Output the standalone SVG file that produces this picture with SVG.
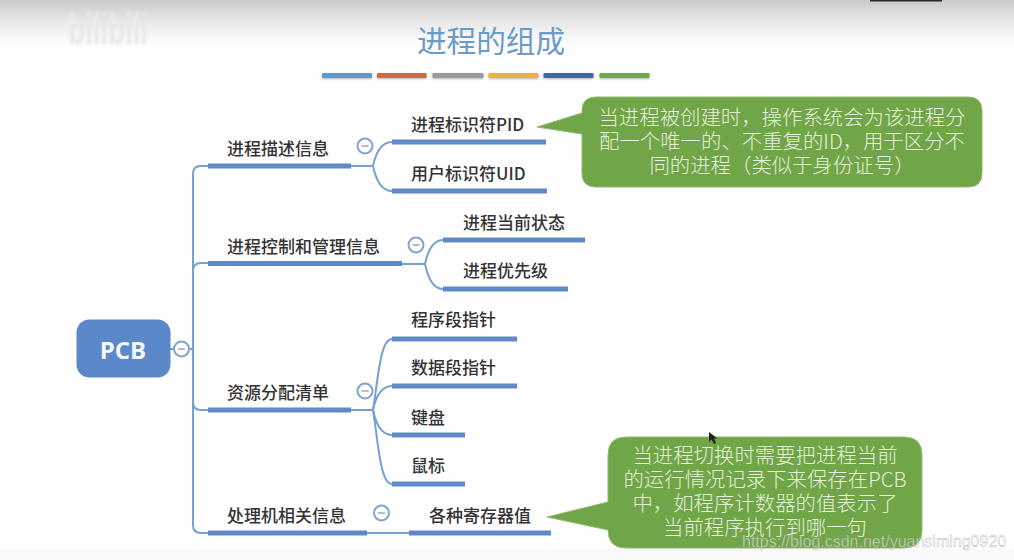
<svg xmlns="http://www.w3.org/2000/svg" width="1014" height="560" viewBox="0 0 1014 560">
  <style>
    .cjk { font-family: "Noto Sans CJK SC", "Liberation Sans", sans-serif; }
    .label { font-size: 17px; fill: #333; font-weight: 500; }
    .bar { fill: none; stroke: #5f8ac6; stroke-width: 5; }
    .thin { fill: none; stroke: #76a0d2; stroke-width: 2; }
    .toggle circle { fill: #fff; stroke: #7fa3d2; stroke-width: 2; }
    .toggle line { stroke: #a9a9b8; stroke-width: 1.6; }
    .note path { fill: #70a548; stroke: #8fb873; stroke-width: 1; }
    .note text { font-size: 20.4px; fill: #e6efdc; text-anchor: middle; font-weight: 300; }
    .swatch { filter: url(#swatchShadow); }
  </style>
  <defs>
    <linearGradient id="topShade" x1="0" y1="0" x2="0" y2="1">
      <stop offset="0" stop-color="#c9c9c9"/>
      <stop offset="0.35" stop-color="#e4e4e4"/>
      <stop offset="0.7" stop-color="#f7f7f7"/>
      <stop offset="1" stop-color="#ffffff"/>
    </linearGradient>
    <filter id="swatchShadow" x="-10%" y="-50%" width="120%" height="220%">
      <feDropShadow dx="0" dy="1" stdDeviation="1" flood-color="#555" flood-opacity="0.45"/>
    </filter>
    <filter id="faint" x="-10%" y="-30%" width="120%" height="160%">
      <feGaussianBlur stdDeviation="1.1"/>
    </filter>
  </defs>

  <rect width="1014" height="560" fill="#ffffff"/>
  <rect width="1014" height="52" fill="url(#topShade)"/>
  <rect x="870" y="0" width="72" height="1.500" fill="#2a2a2a"/>
  <rect y="549" width="1014" height="11" fill="#f9f9f9"/>

  <!-- channel mark, top left -->
  <text x="68" y="44" font-family="Liberation Sans, sans-serif" font-size="44" font-weight="700" fill="#e9e9e9" textLength="80" lengthAdjust="spacingAndGlyphs" filter="url(#faint)">bilibili</text>

  <!-- heading -->
  <g id="title">
    <text class="cjk" x="491" y="52" font-size="29.6" fill="#6a9bc9" text-anchor="middle">进程的组成</text>
    <rect class="swatch" x="322" y="73" width="50" height="5" rx="1" fill="#5f97cf"/>
    <rect class="swatch" x="377" y="73" width="49.500" height="5" rx="1" fill="#cc6a43"/>
    <rect class="swatch" x="432.500" y="73" width="51" height="5" rx="1" fill="#9b9b9b"/>
    <rect class="swatch" x="488.500" y="73" width="50" height="5" rx="1" fill="#ecb143"/>
    <rect class="swatch" x="543.500" y="73" width="50" height="5" rx="1" fill="#3f66b2"/>
    <rect class="swatch" x="599.500" y="73" width="50" height="5" rx="1" fill="#70a84c"/>
  </g>

  <g id="connectors">
    <!-- trunk from the root to the four branches -->
    <path class="thin" d="M208 166H201Q193 166 193 174V525Q193 533 201 533H208"/>
    <path class="thin" d="M193 271Q193 263 201 263H208"/>
    <path class="thin" d="M193 402Q193 410 201 410H208"/>
    <path class="thin" d="M170 349H193"/>
    <!-- branch underlines -->
    <path class="bar" d="M208 166H351"/>
    <path class="bar" d="M208 263.500H402"/>
    <path class="bar" d="M208 410H351"/>
    <path class="bar" d="M208 533H367"/>
    <!-- process description children -->
    <path class="thin" d="M351 166H373C376 152 382 142 392 142"/>
    <path class="thin" d="M373 166C376 180 382 191 392 191"/>
    <path class="bar" d="M392 142H546"/>
    <path class="bar" d="M392 191H547"/>
    <!-- process control children -->
    <path class="thin" d="M402 264H425C428 250 433 240 443 240"/>
    <path class="thin" d="M425 264C428 278 433 289 443 289"/>
    <path class="bar" d="M443 240H585"/>
    <path class="bar" d="M443 289H568"/>
    <!-- resource list children -->
    <path class="thin" d="M351 410H373C378 380 380 339 392 339"/>
    <path class="thin" d="M373 410C376 396 382 386 392 386"/>
    <path class="thin" d="M373 410C376 424 382 435 392 435"/>
    <path class="thin" d="M373 410C378 440 380 484 392 484"/>
    <path class="bar" d="M392 339H517"/>
    <path class="bar" d="M392 386H517"/>
    <path class="bar" d="M392 435H465"/>
    <path class="bar" d="M392 484H465"/>
    <!-- processor child -->
    <path class="thin" d="M367 533H409"/>
    <path class="bar" d="M409 533H551"/>
  </g>

  <g id="node-pcb">
    <rect x="76.500" y="319.500" width="94" height="58" rx="13" fill="#5a88c8"/>
    <text x="123" y="359" font-family="Open Sans, Liberation Sans, sans-serif" font-size="24" font-weight="700" fill="#f4f7fb" text-anchor="middle">PCB</text>
  </g>
  <g id="toggle-pcb" class="toggle"><circle cx="181.500" cy="349" r="7.500"/><line x1="178" y1="349" x2="185" y2="349"/></g>

  <g id="node-desc"><text class="cjk label" x="227" y="155">进程描述信息</text></g>
  <g id="toggle-desc" class="toggle"><circle cx="365" cy="146" r="7.500"/><line x1="361.500" y1="146" x2="368.500" y2="146"/></g>
  <g id="node-control"><text class="cjk label" x="227" y="253">进程控制和管理信息</text></g>
  <g id="toggle-control" class="toggle"><circle cx="416" cy="245" r="7.500"/><line x1="412.500" y1="245" x2="419.500" y2="245"/></g>
  <g id="node-resource"><text class="cjk label" x="227" y="399">资源分配清单</text></g>
  <g id="toggle-resource" class="toggle"><circle cx="365" cy="391" r="7.500"/><line x1="361.500" y1="391" x2="368.500" y2="391"/></g>
  <g id="node-cpu"><text class="cjk label" x="227" y="522">处理机相关信息</text></g>
  <g id="toggle-cpu" class="toggle"><circle cx="381.500" cy="513" r="7.500"/><line x1="378" y1="513" x2="385" y2="513"/></g>

  <g id="node-pid"><text class="cjk label" x="411" y="131">进程标识符PID</text></g>
  <g id="node-uid"><text class="cjk label" x="411" y="180">用户标识符UID</text></g>
  <g id="node-state"><text class="cjk label" x="463" y="229">进程当前状态</text></g>
  <g id="node-priority"><text class="cjk label" x="463" y="277">进程优先级</text></g>
  <g id="node-code"><text class="cjk label" x="411" y="326">程序段指针</text></g>
  <g id="node-data"><text class="cjk label" x="411" y="374">数据段指针</text></g>
  <g id="node-keyboard"><text class="cjk label" x="411" y="424">键盘</text></g>
  <g id="node-mouse"><text class="cjk label" x="411" y="472">鼠标</text></g>
  <g id="node-registers"><text class="cjk label" x="429" y="522">各种寄存器值</text></g>

  <g id="note-pid" class="note">
    <path d="M537 127L582 113V111Q582 97 596 97H968Q982 97 982 111V173Q982 187 968 187H596Q582 187 582 173V134Z"/>
    <text class="cjk" x="782" y="125">当进程被创建时，操作系统会为该进程分</text>
    <text class="cjk" x="782" y="149">配一个唯一的、不重复的ID，用于区分不</text>
    <text class="cjk" x="782" y="173">同的进程（类似于身份证号）</text>
  </g>

  <g id="note-switch" class="note">
    <path d="M547 517L608 502V455Q608 437 626 437H904Q922 437 922 455V530Q922 548 904 548H626Q608 548 608 530Z"/>
    <text class="cjk" x="765" y="463">当进程切换时需要把进程当前</text>
    <text class="cjk" x="765" y="487">的运行情况记录下来保存在PCB</text>
    <text class="cjk" x="765" y="511">中，如程序计数器的值表示了</text>
    <text class="cjk" x="765" y="535">当前程序执行到哪一句</text>
  </g>

  <!-- pointer -->
  <path d="M709 432V442L711.500 439.500L714 444L716 443L714 438.500H717.500Z" fill="#222"/>

  <text x="742" y="547" font-family="Liberation Sans, sans-serif" font-size="16" fill="#ffffff" fill-opacity="0.55" stroke="#8a8a8a" stroke-width="0.4" stroke-opacity="0.7">https://blog.csdn.net/yuansiming0920</text>
</svg>
